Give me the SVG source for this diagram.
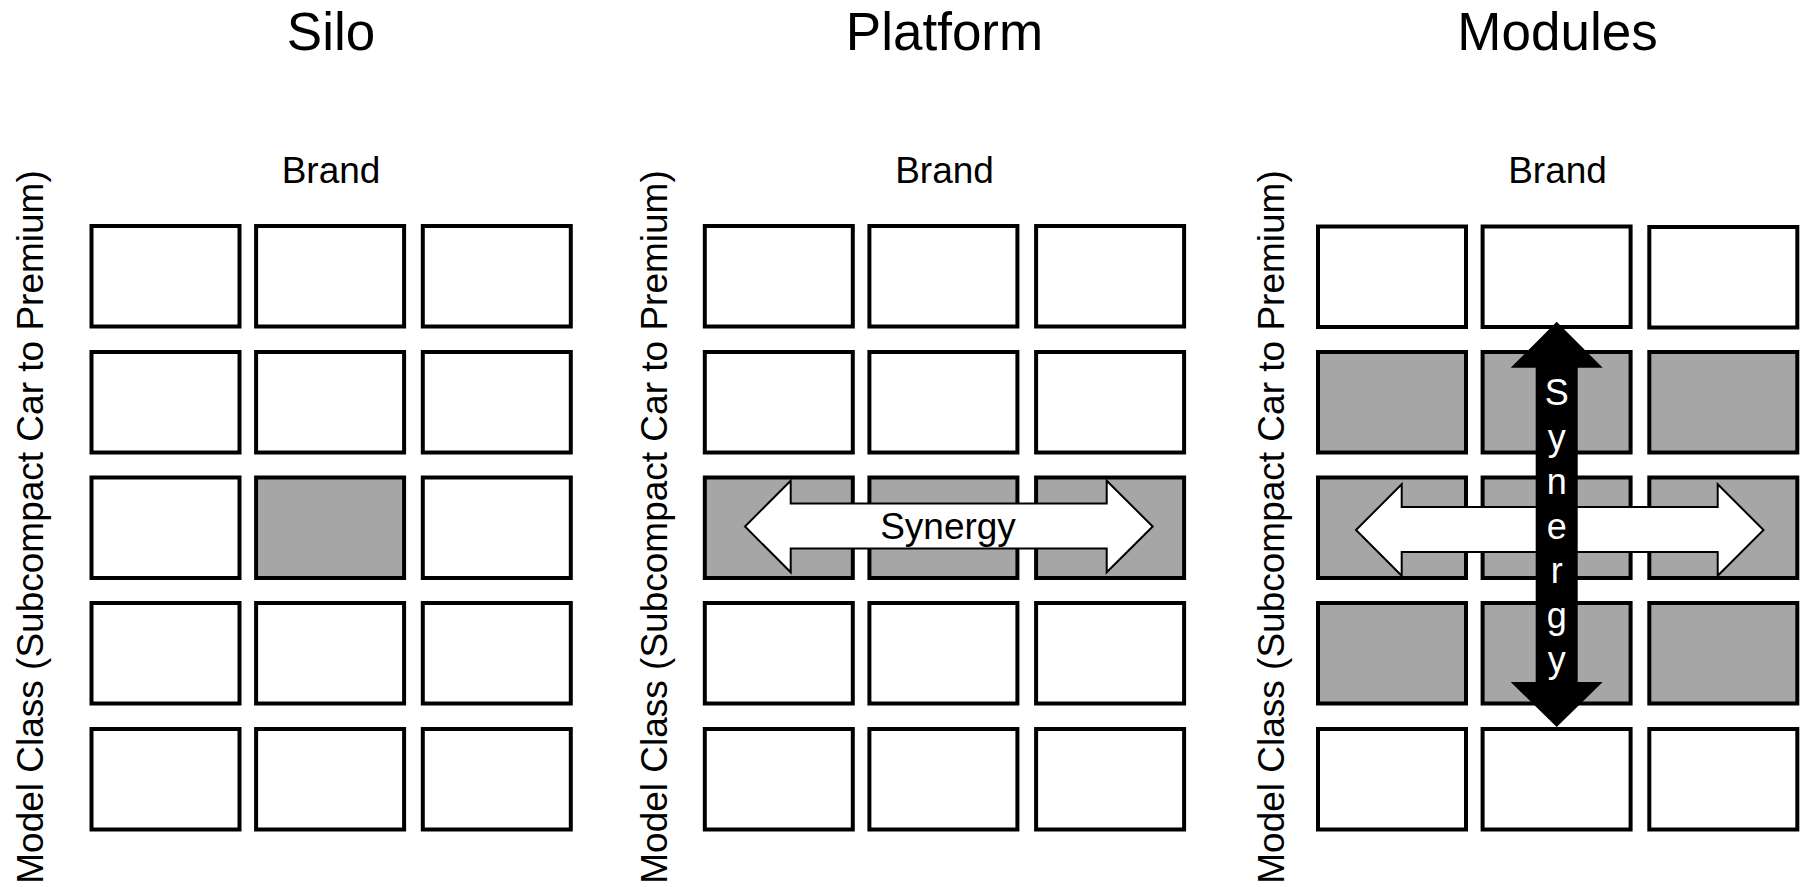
<svg xmlns="http://www.w3.org/2000/svg" width="1803" height="887" viewBox="0 0 1803 887">
  <style>
    text { font-family: "Liberation Sans", Arial, sans-serif; fill: #000; }
    .title { font-size: 53px; text-anchor: middle; }
    .axis { font-size: 37px; text-anchor: middle; }
    .side { font-size: 37px; text-anchor: middle; }
    .cell { fill: #fff; stroke: #000; stroke-width: 4; }
    .cell.on { fill: #a6a6a6; }
    .harrow { fill: #fff; stroke: #000; stroke-width: 2; stroke-linejoin: miter; }
    .varrow { fill: #000; stroke: none; }
    .lbl { font-size: 37px; text-anchor: middle; }
    .vlbl { font-size: 36px; text-anchor: middle; fill: #fff; }
  </style>

  <!-- Silo panel -->
  <g id="silo">
    <text class="title" x="331" y="50">Silo</text>
    <text class="axis" x="331" y="183">Brand</text>
    <text class="side" transform="translate(43,527) rotate(-90)">Model Class (Subcompact Car to Premium)</text>
    <g id="silo-grid">
      <rect class="cell" x="91.5" y="226" width="148" height="100.5"/>
      <rect class="cell" x="256.1" y="226" width="148" height="100.5"/>
      <rect class="cell" x="422.8" y="226" width="148" height="100.5"/>
      <rect class="cell" x="91.5" y="352" width="148" height="100.5"/>
      <rect class="cell" x="256.1" y="352" width="148" height="100.5"/>
      <rect class="cell" x="422.8" y="352" width="148" height="100.5"/>
      <rect class="cell" x="91.5" y="477.5" width="148" height="100.5"/>
      <rect class="cell on" x="256.1" y="477.5" width="148" height="100.5"/>
      <rect class="cell" x="422.8" y="477.5" width="148" height="100.5"/>
      <rect class="cell" x="91.5" y="603" width="148" height="100.5"/>
      <rect class="cell" x="256.1" y="603" width="148" height="100.5"/>
      <rect class="cell" x="422.8" y="603" width="148" height="100.5"/>
      <rect class="cell" x="91.5" y="729" width="148" height="100.5"/>
      <rect class="cell" x="256.1" y="729" width="148" height="100.5"/>
      <rect class="cell" x="422.8" y="729" width="148" height="100.5"/>
    </g>
  </g>

  <!-- Platform panel -->
  <g id="platform">
    <text class="title" x="944.5" y="50">Platform</text>
    <text class="axis" x="944.5" y="183">Brand</text>
    <text class="side" transform="translate(667,527) rotate(-90)">Model Class (Subcompact Car to Premium)</text>
    <g id="platform-grid">
      <rect class="cell" x="704.8" y="226" width="148" height="100.5"/>
      <rect class="cell" x="869.4" y="226" width="148" height="100.5"/>
      <rect class="cell" x="1036.1" y="226" width="148" height="100.5"/>
      <rect class="cell" x="704.8" y="352" width="148" height="100.5"/>
      <rect class="cell" x="869.4" y="352" width="148" height="100.5"/>
      <rect class="cell" x="1036.1" y="352" width="148" height="100.5"/>
      <rect class="cell on" x="704.8" y="477.5" width="148" height="100.5"/>
      <rect class="cell on" x="869.4" y="477.5" width="148" height="100.5"/>
      <rect class="cell on" x="1036.1" y="477.5" width="148" height="100.5"/>
      <rect class="cell" x="704.8" y="603" width="148" height="100.5"/>
      <rect class="cell" x="869.4" y="603" width="148" height="100.5"/>
      <rect class="cell" x="1036.1" y="603" width="148" height="100.5"/>
      <rect class="cell" x="704.8" y="729" width="148" height="100.5"/>
      <rect class="cell" x="869.4" y="729" width="148" height="100.5"/>
      <rect class="cell" x="1036.1" y="729" width="148" height="100.5"/>
    </g>
  </g>

  <!-- Modules panel -->
  <g id="modules">
    <text class="title" x="1557.5" y="50">Modules</text>
    <text class="axis" x="1557.5" y="183">Brand</text>
    <text class="side" transform="translate(1284,527) rotate(-90)">Model Class (Subcompact Car to Premium)</text>
    <g id="modules-grid">
      <rect class="cell" x="1318" y="226.5" width="148" height="100.5"/>
      <rect class="cell" x="1482.6" y="226.5" width="148" height="100.5"/>
      <rect class="cell" x="1649.3" y="227" width="148" height="100.5"/>
      <rect class="cell on" x="1318" y="352" width="148" height="100.5"/>
      <rect class="cell on" x="1482.6" y="352" width="148" height="100.5"/>
      <rect class="cell on" x="1649.3" y="352" width="148" height="100.5"/>
      <rect class="cell on" x="1318" y="477.5" width="148" height="100.5"/>
      <rect class="cell on" x="1482.6" y="477.5" width="148" height="100.5"/>
      <rect class="cell on" x="1649.3" y="477.5" width="148" height="100.5"/>
      <rect class="cell on" x="1318" y="603" width="148" height="100.5"/>
      <rect class="cell on" x="1482.6" y="603" width="148" height="100.5"/>
      <rect class="cell on" x="1649.3" y="603" width="148" height="100.5"/>
      <rect class="cell" x="1318" y="729" width="148" height="100.5"/>
      <rect class="cell" x="1482.6" y="729" width="148" height="100.5"/>
      <rect class="cell" x="1649.3" y="729" width="148" height="100.5"/>
    </g>
  </g>

  <!-- Synergy arrows -->
  <g id="connectors">
    <g id="platform-synergy">
      <path class="harrow" d="M745,526.5 L790.7,480.7 L790.7,503.5 L1106.7,503.5 L1106.7,480.7 L1152.7,526.5 L1106.7,572.3 L1106.7,548.5 L790.7,548.5 L790.7,572.3 Z"/>
      <text class="lbl" x="948" y="539">Synergy</text>
    </g>
    <g id="modules-synergy">
      <path class="harrow" d="M1356,530 L1401.7,484.2 L1401.7,507 L1717.7,507 L1717.7,484.2 L1763.5,530 L1717.7,575.8 L1717.7,552 L1401.7,552 L1401.7,575.8 Z"/>
      <path class="varrow" d="M1556.7,321.7 L1602.7,367.7 L1577.7,367.7 L1577.7,682 L1602.7,682 L1556.7,727 L1510.7,682 L1535.7,682 L1535.7,367.7 L1510.7,367.7 Z"/>
      <text class="vlbl" x="1556.7" y="405">S<tspan x="1556.7" dy="44.5">y</tspan><tspan x="1556.7" dy="44.5">n</tspan><tspan x="1556.7" dy="44.5">e</tspan><tspan x="1556.7" dy="44.5">r</tspan><tspan x="1556.7" dy="44.5">g</tspan><tspan x="1556.7" dy="44.5">y</tspan></text>
    </g>
  </g>
</svg>
